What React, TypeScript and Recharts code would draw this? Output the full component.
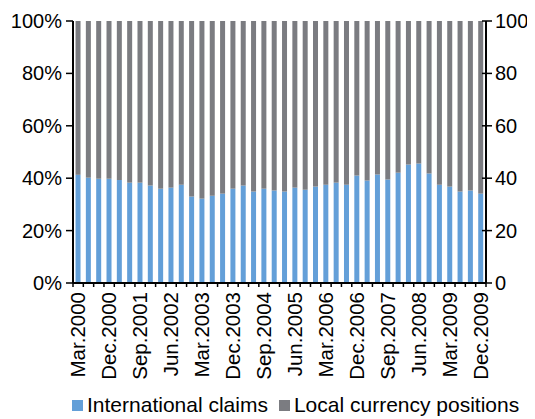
import React from 'react';
import { ComposedChart, Bar, Line, XAxis, YAxis, Legend } from 'recharts';

const quarters = [
  'Mar.2000', 'Jun.2000', 'Sep.2000', 'Dec.2000',
  'Mar.2001', 'Jun.2001', 'Sep.2001', 'Dec.2001',
  'Mar.2002', 'Jun.2002', 'Sep.2002', 'Dec.2002',
  'Mar.2003', 'Jun.2003', 'Sep.2003', 'Dec.2003',
  'Mar.2004', 'Jun.2004', 'Sep.2004', 'Dec.2004',
  'Mar.2005', 'Jun.2005', 'Sep.2005', 'Dec.2005',
  'Mar.2006', 'Jun.2006', 'Sep.2006', 'Dec.2006',
  'Mar.2007', 'Jun.2007', 'Sep.2007', 'Dec.2007',
  'Mar.2008', 'Jun.2008', 'Sep.2008', 'Dec.2008',
  'Mar.2009', 'Jun.2009', 'Sep.2009', 'Dec.2009',
];

// share of international claims, %
const internationalClaims = [
  41.3, 40.2, 39.8, 39.8, 39.3, 38.3, 38.3, 37.2, 36.0, 36.4,
  37.5, 33.0, 32.2, 33.3, 34.1, 36.0, 37.2, 34.9, 36.0, 35.3,
  34.9, 36.4, 35.6, 36.8, 37.5, 38.3, 37.5, 41.0, 39.1, 41.4,
  39.5, 42.1, 45.2, 45.6, 41.8, 37.5, 36.8, 34.9, 35.3, 34.1,
];

// share of local currency positions, %
const localPositions = [
  58.7, 59.8, 60.2, 60.2, 60.7, 61.7, 61.7, 62.8, 64.0, 63.6,
  62.5, 67.0, 67.8, 66.7, 65.9, 64.0, 62.8, 65.1, 64.0, 64.7,
  65.1, 63.6, 64.4, 63.2, 62.5, 61.7, 62.5, 59.0, 60.9, 58.6,
  60.5, 57.9, 54.8, 54.4, 58.2, 62.5, 63.2, 65.1, 64.7, 65.9,
];

const leftTicks = [0, 20, 40, 60, 80, 100];
const rightTicks = [0, 20, 40, 60, 80, 100];
const labelEvery = 3;

const BLUE = '#639fd8';
const GREY = '#7b7c81';
const FONT = '"Liberation Sans", Arial, sans-serif';

const CHART_W = 519;
const CHART_H = 411;
const LEFT_W = 65;
const RIGHT_W = 41;
const PLOT_W = CHART_W - LEFT_W - RIGHT_W;
const BAND = PLOT_W / quarters.length;
const BAR_W = 5;

const rows = quarters.map((q, i) => ({
  name: q,
  intl: internationalClaims[i],
  local: localPositions[i],
}));

// narrow column centred in its slot
const SlimBar = (props: any) => {
  const { x, y, width, height, fill } = props;
  if (!height) return null;
  const cx = x + width / 2;
  return <rect x={cx - BAR_W / 2} y={y} width={BAR_W} height={height} fill={fill} />;
};

const LeftTick = (props: any) => {
  const { x, y, payload } = props;
  return (
    <g>
      <line x1={x - 7} x2={x} y1={y} y2={y} stroke="#000" strokeWidth={1.5} />
      <text x={x - 11} y={y} dy="0.35em" textAnchor="end" fontSize={20} fontFamily={FONT} fill="#000">
        {payload.value}%
      </text>
    </g>
  );
};

const RightTick = (props: any) => {
  const { x, y, payload } = props;
  return (
    <g>
      <line x1={x - 4} x2={x + 6} y1={y} y2={y} stroke="#000" strokeWidth={1.5} />
      <text x={x + 9} y={y} dy="0.35em" textAnchor="start" fontSize={20} fontFamily={FONT} fill="#000">
        {payload.value}
      </text>
    </g>
  );
};

const BottomTick = (props: any) => {
  const { x, y, payload, index } = props;
  const last = index === quarters.length - 1;
  return (
    <g>
      <line x1={x - BAND / 2} x2={x - BAND / 2} y1={y} y2={y + 4} stroke="#000" strokeWidth={1.5} />
      {last && <line x1={x + BAND / 2} x2={x + BAND / 2} y1={y} y2={y + 4} stroke="#000" strokeWidth={1.5} />}
      {index % labelEvery === 0 && (
        <text
          x={x}
          y={y + 9}
          dy="0.35em"
          transform={`rotate(-90, ${x}, ${y + 9})`}
          textAnchor="end"
          fontSize={20.5}
          fontFamily={FONT}
          fill="#000"
        >
          {payload.value}
        </text>
      )}
    </g>
  );
};

const LegendBox = () => (
  <div
    style={{
      height: 28,
      display: 'flex',
      alignItems: 'center',
      paddingLeft: 64,
      fontFamily: FONT,
      fontSize: 21,
      color: '#000',
      whiteSpace: 'nowrap',
    }}
  >
    <span style={{ width: 11, height: 11, background: BLUE, marginRight: 4 }} />
    <span style={{ marginRight: 11 }}>International claims</span>
    <span style={{ width: 11, height: 11, background: GREY, marginRight: 4 }} />
    <span>Local currency positions</span>
  </div>
);

export default function App() {
  return (
    <ComposedChart
      width={CHART_W}
      height={CHART_H}
      data={rows}
      margin={{ top: 13, right: 0, left: 0, bottom: 0 }}
    >
      <XAxis
        dataKey="name"
        interval={0}
        height={108}
        tickSize={0}
        tickMargin={0}
        tick={<BottomTick />}
        axisLine={{ stroke: '#000', strokeWidth: 2 }}
      />
      <YAxis
        yAxisId="left"
        width={LEFT_W}
        domain={[0, 100]}
        ticks={leftTicks}
        tickSize={0}
        tickMargin={0}
        tick={<LeftTick />}
        axisLine={{ stroke: '#000', strokeWidth: 2 }}
      />
      <YAxis
        yAxisId="right"
        orientation="right"
        width={RIGHT_W}
        domain={[0, 100]}
        ticks={rightTicks}
        tickSize={0}
        tickMargin={0}
        tick={<RightTick />}
        axisLine={{ stroke: '#000', strokeWidth: 2 }}
      />
      <Legend verticalAlign="bottom" content={() => <LegendBox />} />
      <Bar yAxisId="left" dataKey="intl" name="International claims" stackId="a" fill={BLUE} shape={<SlimBar />} isAnimationActive={false} />
      <Bar yAxisId="left" dataKey="local" name="Local currency positions" stackId="a" fill={GREY} shape={<SlimBar />} isAnimationActive={false} />
      <Line yAxisId="right" dataKey="intl" stroke="none" dot={false} activeDot={false} legendType="none" isAnimationActive={false} />
    </ComposedChart>
  );
}
